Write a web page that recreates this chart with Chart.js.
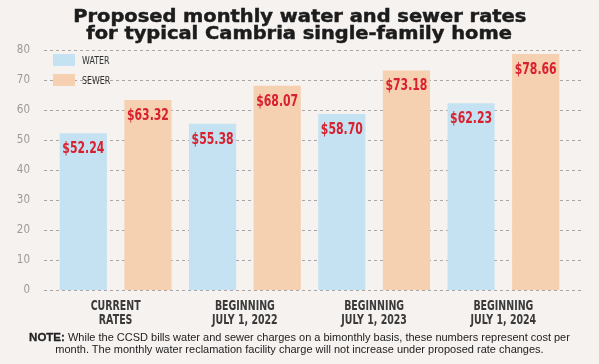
<!DOCTYPE html>
<html>
<head>
<meta charset="utf-8">
<script src="https://cdn.jsdelivr.net/npm/chart.js@4/dist/chart.umd.min.js"></script>
<style>
  html, body { margin: 0; padding: 0; background: #f6f2f0; }
  #wrap { position: relative; width: 599px; height: 364px; overflow: hidden; }
  #title {
    position: absolute; left: 0; top: 8px; width: 599px; text-align: center;
    font-family: 'DejaVu Sans', sans-serif; font-weight: bold; font-size: 18px;
    line-height: 16.5px; color: #1c1c1c; -webkit-text-stroke: 0.5px #1c1c1c;
  }
  #title span { display: inline-block; transform: scaleX(1.08); transform-origin: center; }
  #note {
    position: absolute; left: 0; top: 332px; width: 599px; text-align: center;
    font-family: 'Liberation Sans', Arial, sans-serif; font-size: 11px; line-height: 11.5px; color: #222;
  }
  #note b { font-size: 11.5px; -webkit-text-stroke: 0.3px #222; }
</style>
</head>
<body>
<div id="wrap">
  <canvas id="chart" width="599" height="364"></canvas>
  <div id="title"><span>Proposed monthly water and sewer rates</span><br><span>for typical Cambria single-family home</span></div>
  <div id="note"><b>NOTE:</b> While the CCSD bills water and sewer charges on a bimonthly basis, these numbers represent cost per<br>month. The monthly water reclamation facility charge will not increase under proposed rate changes.</div>
</div>
<script>
const categories = [
    ['CURRENT', 'RATES'],
    ['BEGINNING', 'JULY 1, 2022'],
    ['BEGINNING', 'JULY 1, 2023'],
    ['BEGINNING', 'JULY 1, 2024']
];
const waterRates = [52.24, 55.38, 58.70, 62.23];
const sewerRates = [63.32, 68.07, 73.18, 78.66];
const yTicks = [0, 10, 20, 30, 40, 50, 60, 70, 80];

const FAMILY = "'DejaVu Sans', sans-serif";

// dashed grid lines running from the tick labels to the right edge
const dashedGrid = {
    id: 'dashedGrid',
    beforeDatasetsDraw(chart) {
        const ctx = chart.ctx;
        const y = chart.scales.y;
        ctx.save();
        ctx.strokeStyle = '#aaa7a6';
        ctx.lineWidth = 1;
        ctx.setLineDash([3, 3]);
        yTicks.forEach(t => {
            const py = Math.round(y.getPixelForValue(t)) + 0.5;
            ctx.beginPath();
            ctx.moveTo(44, py);
            ctx.lineTo(581, py);
            ctx.stroke();
        });
        ctx.restore();
    }
};

// squeezed text, the original uses a condensed face
function narrowText(ctx, txt, x, y, sx) {
    ctx.save();
    ctx.translate(x, y);
    ctx.scale(sx, 1);
    ctx.fillText(txt, 0, 0);
    ctx.restore();
}

// legend boxes in the upper left corner
const cornerLegend = {
    id: 'cornerLegend',
    afterDraw(chart) {
        const ctx = chart.ctx;
        ctx.save();
        chart.data.datasets.forEach((ds, i) => {
            const top = 54 + i * 20;
            ctx.fillStyle = ds.backgroundColor;
            ctx.fillRect(53, top, 22, 12);
            ctx.fillStyle = '#333';
            ctx.font = '11px ' + FAMILY;
            ctx.textBaseline = 'middle';
            narrowText(ctx, ds.label, 82, top + 7, 0.72);
        });
        ctx.restore();
    }
};

// red dollar labels inside the top of each bar
const valueLabels = {
    id: 'valueLabels',
    afterDatasetsDraw(chart) {
        const ctx = chart.ctx;
        ctx.save();
        ctx.fillStyle = '#d9202e';
        ctx.font = 'bold 16.5px ' + FAMILY;
        ctx.textAlign = 'center';
        ctx.textBaseline = 'alphabetic';
        chart.data.datasets.forEach((ds, i) => {
            chart.getDatasetMeta(i).data.forEach((bar, j) => {
                narrowText(ctx, '$' + ds.data[j].toFixed(2), bar.x, bar.y + 20, 0.66);
            });
        });
        ctx.restore();
    }
};

// category labels drawn at the x scale's tick positions
const xLabels = {
    id: 'xLabels',
    afterDraw(chart) {
        const ctx = chart.ctx;
        const x = chart.scales.x;
        ctx.save();
        ctx.fillStyle = '#3a3a3a';
        ctx.font = 'bold 13.5px ' + FAMILY;
        ctx.textAlign = 'center';
        ctx.textBaseline = 'middle';
        categories.forEach((lines, i) => {
            const px = x.getPixelForTick(i);
            lines.forEach((ln, k) => narrowText(ctx, ln, px, 306 + k * 14, 0.7));
        });
        ctx.restore();
    }
};

new Chart(document.getElementById('chart'), {
    type: 'bar',
    data: {
        labels: categories,
        datasets: [
            { label: 'WATER', data: waterRates, backgroundColor: '#c4e2f1' },
            { label: 'SEWER', data: sewerRates, backgroundColor: '#f6d1b1' }
        ]
    },
    options: {
        responsive: false,
        animation: false,
        devicePixelRatio: 1,
        layout: { padding: { top: 50, right: 31, left: 0, bottom: 0 } },
        categoryPercentage: 1.0,
        barPercentage: 0.73,
        scales: {
            x: {
                grid: { display: false },
                border: { display: false },
                ticks: { display: false },
                afterFit(scale) { scale.height = 74; }
            },
            y: {
                min: 0, max: 80,
                grid: { display: false },
                border: { display: false },
                ticks: {
                    stepSize: 10,
                    color: '#9c9a99',
                    font: { family: "'DejaVu Sans Condensed', 'DejaVu Sans'", size: 11.5 },
                    padding: 13
                },
                afterFit(scale) { scale.width = 51; }
            }
        },
        plugins: {
            legend: { display: false },
            tooltip: { enabled: false }
        }
    },
    plugins: [dashedGrid, cornerLegend, valueLabels, xLabels]
});
</script>
</body>
</html>
